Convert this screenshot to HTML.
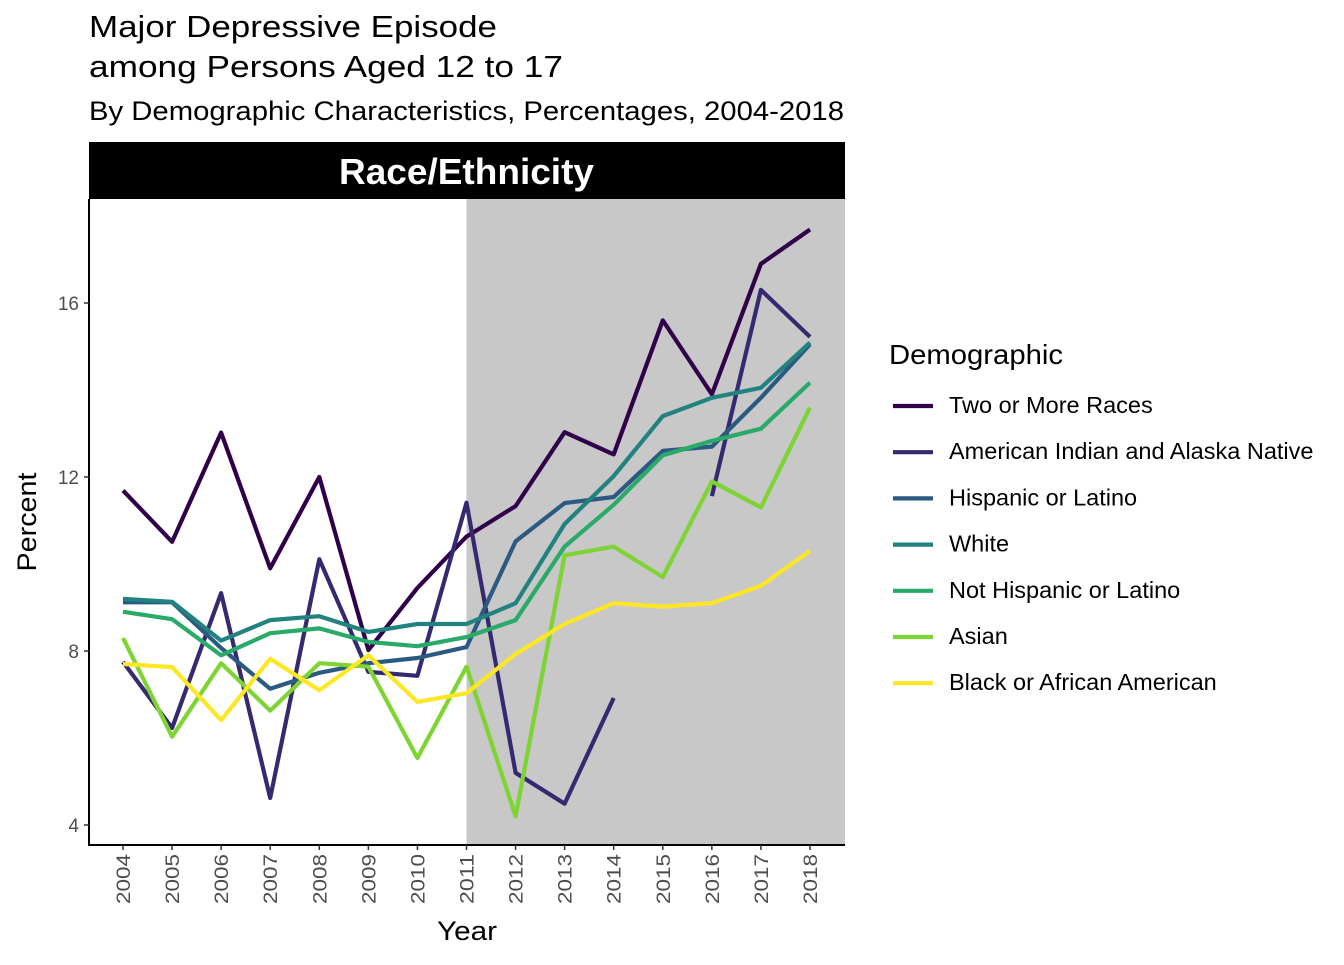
<!DOCTYPE html>
<html><head><meta charset="utf-8"><style>
body{margin:0;background:#fff;font-family:"Liberation Sans",Arial,sans-serif}
svg text{font-family:"Liberation Sans",Arial,sans-serif}
</style></head><body>
<svg id="chart" width="1344" height="960" viewBox="0 0 1344 960" xmlns="http://www.w3.org/2000/svg">
<text x="89" y="37" font-size="31" textLength="408" lengthAdjust="spacingAndGlyphs">Major Depressive Episode</text>
<text x="89" y="77" font-size="31" textLength="474" lengthAdjust="spacingAndGlyphs">among Persons Aged 12 to 17</text>
<text x="89" y="120" font-size="27" textLength="755" lengthAdjust="spacingAndGlyphs">By Demographic Characteristics, Percentages, 2004-2018</text>
<rect x="89" y="142" width="756" height="57" fill="#000"/>
<text x="466.5" y="184" font-size="36" font-weight="bold" fill="#fff" text-anchor="middle" textLength="255" lengthAdjust="spacingAndGlyphs">Race/Ethnicity</text>
<g id="plot"></g>
<text x="467" y="940" font-size="27" text-anchor="middle" textLength="60" lengthAdjust="spacingAndGlyphs">Year</text>
<text transform="translate(36,522) rotate(-90)" font-size="27" text-anchor="middle" textLength="99" lengthAdjust="spacingAndGlyphs">Percent</text>
<text x="889" y="364" font-size="28" textLength="174" lengthAdjust="spacingAndGlyphs">Demographic</text>
<g id="legend"></g>
</svg>
<script>
const years=[2004,2005,2006,2007,2008,2009,2010,2011,2012,2013,2014,2015,2016,2017,2018];
const seriesNames=["Two or More Races","American Indian and Alaska Native","Hispanic or Latino","White","Not Hispanic or Latino","Asian","Black or African American"];
const twoOrMore=[11.69,10.51,13.02,9.9,12.0,8.02,9.45,10.63,11.33,13.03,12.52,15.6,13.9,16.9,17.69];
const aian=[7.75,6.23,9.33,4.62,10.11,7.52,7.43,11.41,5.2,4.49,6.92,null,11.56,16.3,15.22];
const hispanic=[9.12,9.12,8.07,7.13,7.5,7.72,7.84,8.09,10.52,11.4,11.54,12.6,12.7,13.82,15.05];
const white=[9.2,9.13,8.24,8.71,8.8,8.44,8.62,8.62,9.1,10.92,12.02,13.4,13.82,14.05,15.09];
const notHispanic=[8.9,8.73,7.9,8.41,8.52,8.21,8.11,8.32,8.71,10.4,11.36,12.5,12.83,13.11,14.17];
const asian=[8.3,6.03,7.72,6.63,7.72,7.64,5.54,7.64,4.2,10.2,10.4,9.7,11.9,11.3,13.6];
const black=[7.7,7.63,6.41,7.82,7.1,7.9,6.83,7.03,7.93,8.62,9.1,9.02,9.1,9.5,10.3];
const yTicks=[4,8,12,16];
const shadeStart=2011;

const colors=["#31004a","#352a70","#2a5a82","#21827f","#2aaa68","#7ed432","#fde725"];
const allSeries=[twoOrMore,aian,hispanic,white,notHispanic,asian,black];
const NS="http://www.w3.org/2000/svg";
const X0=89,X1=845,Y0=199,Y1=845;
const xs=y=>123+(y-2004)*(810-123)/14;
const ys=v=>303+(16-v)*43.5;
const plot=document.getElementById('plot');
function mk(tag,attrs,parent){const e=document.createElementNS(NS,tag);for(const k in attrs)e.setAttribute(k,attrs[k]);(parent||plot).appendChild(e);return e;}
let r=mk('rect',{x:xs(shadeStart),y:Y0,width:X1-xs(shadeStart),height:Y1-Y0,fill:"#c8c8c8"});


allSeries.forEach((s,i)=>{
  let d="",pen=false;
  s.forEach((v,j)=>{if(v==null){pen=false;return;}d+=(pen?"L":"M")+xs(years[j]).toFixed(1)+" "+ys(v).toFixed(1)+" ";pen=true;});
  const p=mk('path',{d:d,fill:"none",stroke:colors[i],"stroke-width":4.2,"stroke-linejoin":"round"});
  
  
});
let ax=mk('path',{d:`M${X0} ${Y0}V${Y1}H${X1}`,fill:"none",stroke:"#000","stroke-width":2});


yTicks.forEach(t=>{
  mk('line',{x1:X0-5,x2:X0,y1:ys(t),y2:ys(t),stroke:"#333","stroke-width":1.5});
  const tx=mk('text',{x:X0-10,y:ys(t)+7,"font-size":19,fill:"#4d4d4d","text-anchor":"end"});
  tx.textContent=t;
  
  
});
years.forEach(y=>{
  mk('line',{x1:xs(y),x2:xs(y),y1:Y1,y2:Y1+5,stroke:"#333","stroke-width":1.5});
  const tx=mk('text',{transform:`translate(${xs(y)+7},${Y1+9}) rotate(-90)`,"font-size":19,fill:"#4d4d4d","text-anchor":"end",textLength:50,lengthAdjust:"spacingAndGlyphs"});
  tx.textContent=y;
  
  
});
const leg=document.getElementById('legend');
seriesNames.forEach((n,i)=>{
  const yy=406+i*46.2;
  const g=mk('g',{},leg);
  
  
  mk('line',{x1:893,x2:933,y1:yy,y2:yy,stroke:colors[i],"stroke-width":4.2},g);
  const t=mk('text',{x:949,y:yy+7,"font-size":23.5},g);
  t.textContent=n;
});
</script>
</body></html>
